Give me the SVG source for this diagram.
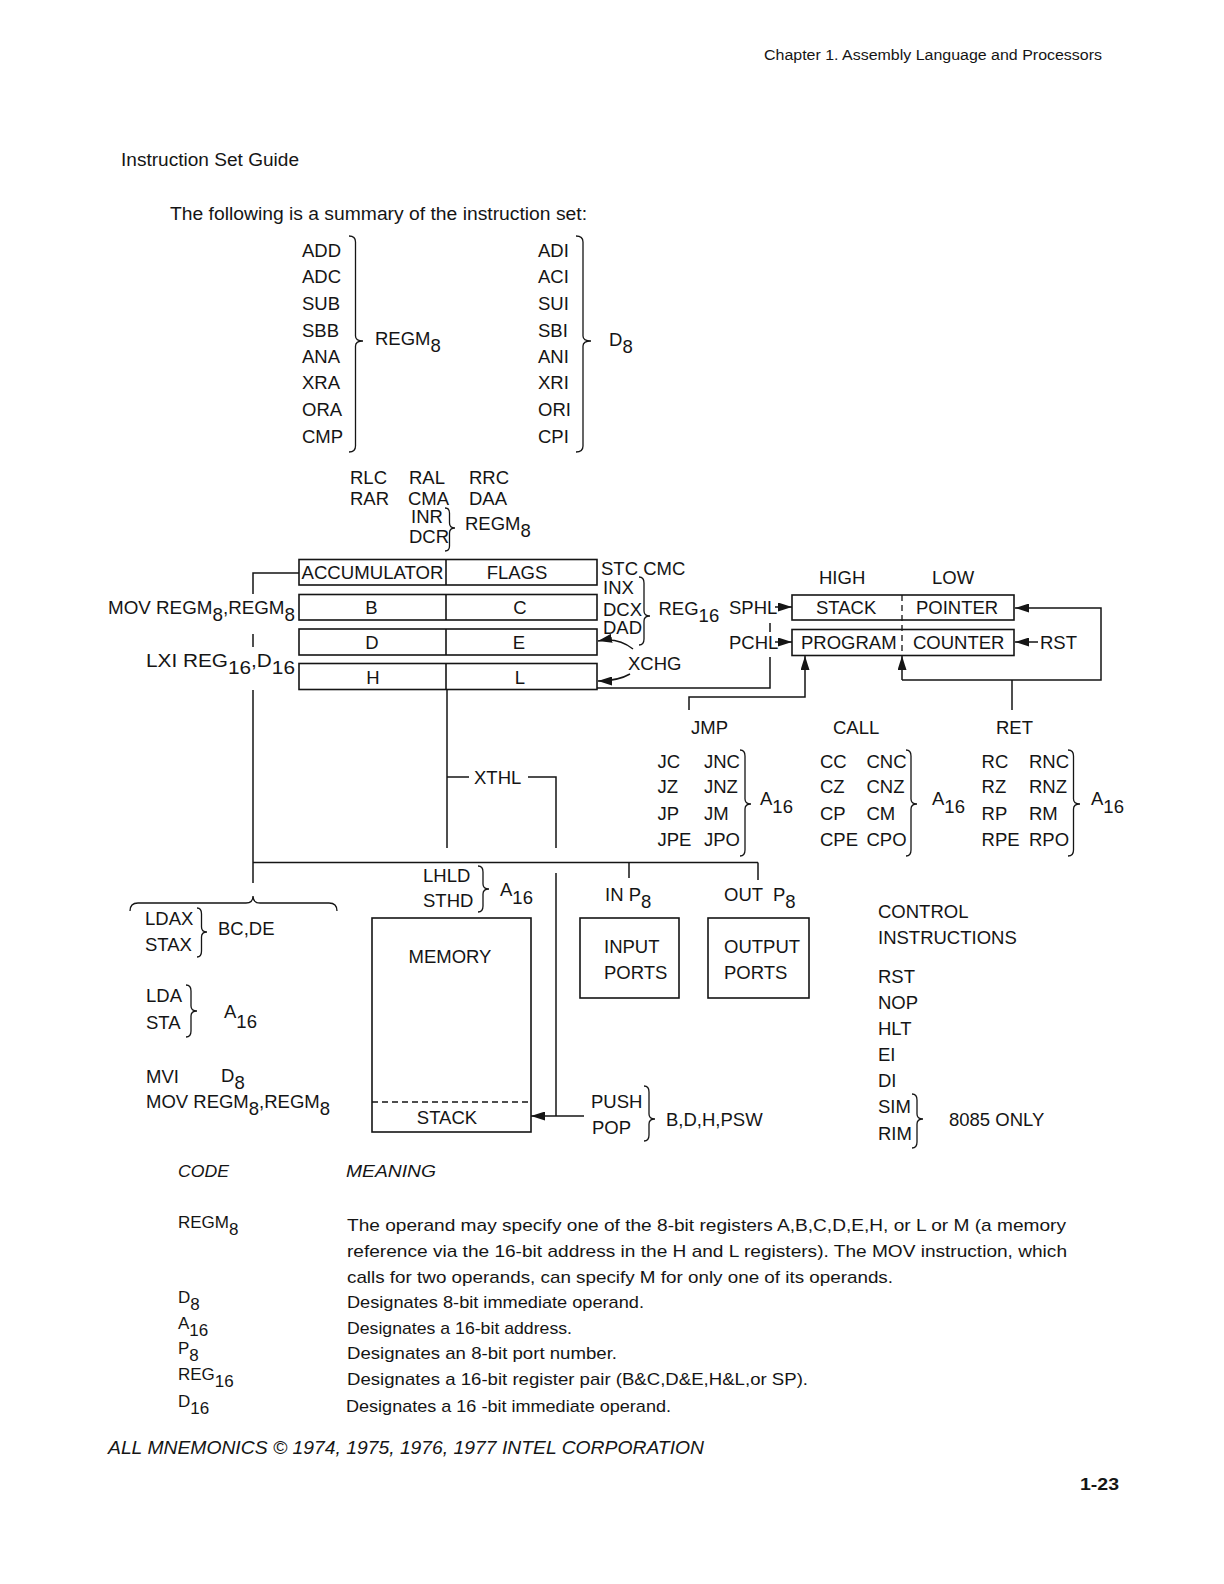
<svg xmlns="http://www.w3.org/2000/svg" width="1224" height="1584" viewBox="0 0 1224 1584">
<defs>
<style>
text { font-family: "Liberation Sans", Arial, sans-serif; font-size: 18.5px; fill: #151515; }
.it { font-style: italic; }
.d { font-size: 17px; }
.ln { fill: none; stroke: #151515; stroke-width: 1.5; }
.bx { fill: none; stroke: #151515; stroke-width: 1.6; }
.br { fill: none; stroke: #151515; stroke-width: 1.3; }
.ds { fill: none; stroke: #151515; stroke-width: 1.3; stroke-dasharray: 6 4; }
</style>
<marker id="ah" viewBox="0 0 14 9" refX="14" refY="4.5" markerWidth="14" markerHeight="9" markerUnits="userSpaceOnUse" orient="auto"><path d="M0,0 L14,4.5 L0,9 z" fill="#151515"/></marker>
</defs>
<rect width="1224" height="1584" fill="#ffffff"/>

<g id="page-text">
<text x="764" y="60" style="font-size:15.5px" textLength="338" lengthAdjust="spacingAndGlyphs">Chapter 1.  Assembly Language and Processors</text>
<text x="121" y="166" style="font-size:17.5px" textLength="178" lengthAdjust="spacingAndGlyphs">Instruction Set Guide</text>
<text x="170" y="219.5" style="font-size:17.5px" textLength="417" lengthAdjust="spacingAndGlyphs">The following is a summary of the instruction set:</text>
</g>

<g id="arith-regm8">
<text x="302" y="257">ADD</text>
<text x="302" y="283.3">ADC</text>
<text x="302" y="309.6">SUB</text>
<text x="302" y="336.8">SBB</text>
<text x="302" y="363.1">ANA</text>
<text x="302" y="389.4">XRA</text>
<text x="302" y="415.6">ORA</text>
<text x="302" y="442.9">CMP</text>
<path class="br" d="M349,236 Q355.5,236 355.5,242 L355.5,336 Q355.5,341 363,341 Q355.5,341 355.5,346 L355.5,446 Q355.5,452 349,452"/>
<text x="375" y="345">REGM<tspan dy="7">8</tspan></text>
</g>

<g id="arith-d8">
<text x="538" y="257">ADI</text>
<text x="538" y="283.3">ACI</text>
<text x="538" y="309.6">SUI</text>
<text x="538" y="336.8">SBI</text>
<text x="538" y="363.1">ANI</text>
<text x="538" y="389.4">XRI</text>
<text x="538" y="415.6">ORI</text>
<text x="538" y="442.9">CPI</text>
<path class="br" d="M576,236 Q583,236 583,242 L583,336 Q583,341 591,341 Q583,341 583,346 L583,446 Q583,452 576,452"/>
<text x="609" y="346">D<tspan dy="7">8</tspan></text>
</g>

<g id="rotate">
<text x="350" y="484">RLC</text>
<text x="409" y="484">RAL</text>
<text x="469" y="484">RRC</text>
<text x="350" y="504.5">RAR</text>
<text x="408" y="504.5">CMA</text>
<text x="469" y="504.5">DAA</text>
<text x="411" y="522.6">INR</text>
<text x="409" y="542.8">DCR</text>
<path class="br" d="M445,508 Q449.5,508 449.5,513 L449.5,523 Q449.5,528 455,528 Q449.5,528 449.5,533 L449.5,546 Q449.5,551 445,551"/>
<text x="465" y="530">REGM<tspan dy="7">8</tspan></text>
</g>

<g id="registers">
<rect class="bx" x="299" y="559.5" width="298" height="25.5"/>
<rect class="bx" x="299" y="594.5" width="298" height="25.5"/>
<rect class="bx" x="299" y="629" width="298" height="26"/>
<rect class="bx" x="299" y="663.5" width="298" height="26"/>
<line class="bx" x1="446" y1="559.5" x2="446" y2="585"/>
<line class="bx" x1="446" y1="594.5" x2="446" y2="620"/>
<line class="bx" x1="446" y1="629" x2="446" y2="655"/>
<line class="bx" x1="446" y1="663.5" x2="446" y2="689.5"/>
<text x="372.5" y="579" text-anchor="middle" textLength="142" lengthAdjust="spacingAndGlyphs">ACCUMULATOR</text>
<text x="517" y="579" text-anchor="middle">FLAGS</text>
<text x="371.5" y="614" text-anchor="middle">B</text>
<text x="520" y="614" text-anchor="middle">C</text>
<text x="372" y="649" text-anchor="middle">D</text>
<text x="519" y="649" text-anchor="middle">E</text>
<text x="373" y="684" text-anchor="middle">H</text>
<text x="520" y="684" text-anchor="middle">L</text>
</g>

<g id="reg-labels">
<text x="108" y="614" textLength="187" lengthAdjust="spacingAndGlyphs">MOV REGM<tspan dy="7">8</tspan><tspan dy="-7">,REGM</tspan><tspan dy="7">8</tspan></text>
<text x="146" y="667" textLength="149" lengthAdjust="spacingAndGlyphs">LXI REG<tspan dy="7">16</tspan><tspan dy="-7">,D</tspan><tspan dy="7">16</tspan></text>
<text x="601" y="575">STC CMC</text>
<text x="603" y="593.5">INX</text>
<text x="603" y="615.5">DCX</text>
<text x="603" y="633.5">DAD</text>
<path class="br" d="M639,577 Q644,577 644,583 L644,611 Q644,616 650,616 Q644,616 644,621 L644,639 Q644,645 639,645"/>
<text x="658.5" y="615">REG<tspan dy="7">16</tspan></text>
<text x="628" y="669.5">XCHG</text>
<text x="729" y="613.5">SPHL</text>
<text x="729" y="648.5">PCHL</text>
</g>

<g id="sp-pc">
<text x="819" y="584">HIGH</text>
<text x="932" y="584">LOW</text>
<rect class="bx" x="792" y="595" width="222" height="25"/>
<rect class="bx" x="792" y="629.5" width="222" height="26"/>
<line class="ds" x1="902" y1="595" x2="902" y2="655.5"/>
<text x="816" y="614">STACK</text>
<text x="916" y="614">POINTER</text>
<text x="801" y="649">PROGRAM</text>
<text x="913" y="649">COUNTER</text>
<text x="1040" y="649">RST</text>
</g>

<g id="jumps">
<text x="691" y="733.5">JMP</text>
<text x="833" y="733.5">CALL</text>
<text x="996" y="733.5">RET</text>
<text x="657.5" y="768">JC</text><text x="704" y="768">JNC</text>
<text x="657.5" y="793.3">JZ</text><text x="704" y="793.3">JNZ</text>
<text x="657.5" y="819.6">JP</text><text x="704" y="819.6">JM</text>
<text x="657.5" y="845.6">JPE</text><text x="704" y="845.6">JPO</text>
<path class="br" d="M740,750 Q745,750 745,756 L745,799 Q745,804 751,804 Q745,804 745,809 L745,850 Q745,856 740,856"/>
<text x="760" y="805">A<tspan dy="8">16</tspan></text>
<text x="820" y="768">CC</text><text x="866.5" y="768">CNC</text>
<text x="820" y="793.3">CZ</text><text x="866.5" y="793.3">CNZ</text>
<text x="820" y="819.6">CP</text><text x="866.5" y="819.6">CM</text>
<text x="820" y="845.6">CPE</text><text x="866.5" y="845.6">CPO</text>
<path class="br" d="M906,750 Q911,750 911,756 L911,799 Q911,804 917,804 Q911,804 911,809 L911,850 Q911,856 906,856"/>
<text x="932" y="805">A<tspan dy="8">16</tspan></text>
<text x="981.6" y="768">RC</text><text x="1029" y="768">RNC</text>
<text x="981.6" y="793.3">RZ</text><text x="1029" y="793.3">RNZ</text>
<text x="981.6" y="819.6">RP</text><text x="1029" y="819.6">RM</text>
<text x="981.6" y="845.6">RPE</text><text x="1029" y="845.6">RPO</text>
<path class="br" d="M1068,750 Q1073.5,750 1073.5,756 L1073.5,799 Q1073.5,804 1080,804 Q1073.5,804 1073.5,809 L1073.5,850 Q1073.5,856 1068,856"/>
<text x="1091" y="805">A<tspan dy="8">16</tspan></text>
</g>

<g id="xthl">
<text x="474" y="784">XTHL</text>
</g>

<g id="memory">
<text x="423" y="882">LHLD</text>
<text x="423" y="906.5">STHD</text>
<path class="br" d="M478,866 Q483,866 483,872 L483,884 Q483,889 489,889 Q483,889 483,894 L483,906 Q483,912 478,912"/>
<text x="500" y="896">A<tspan dy="8">16</tspan></text>
<rect class="bx" x="372" y="918" width="159" height="214"/>
<line class="ds" x1="372" y1="1102" x2="531" y2="1102"/>
<text x="450" y="963" text-anchor="middle">MEMORY</text>
<text x="447" y="1124" text-anchor="middle">STACK</text>
</g>

<g id="input-ports">
<text x="605" y="901">IN P<tspan dy="7">8</tspan></text>
<rect class="bx" x="580" y="918" width="99" height="80"/>
<text x="604" y="952.5">INPUT</text>
<text x="604" y="979">PORTS</text>
</g>

<g id="output-ports">
<text x="724" y="901" xml:space="preserve">OUT  P<tspan dy="7">8</tspan></text>
<rect class="bx" x="708" y="918" width="101" height="80"/>
<text x="724" y="952.5">OUTPUT</text>
<text x="724" y="979">PORTS</text>
</g>

<g id="stack-ops">
<text x="591" y="1107.6">PUSH</text>
<text x="592" y="1133.6">POP</text>
<path class="br" d="M644,1086 Q649,1086 649,1092 L649,1114 Q649,1119 655,1119 Q649,1119 649,1124 L649,1135 Q649,1141 644,1141"/>
<text x="666" y="1125.6">B,D,H,PSW</text>
</g>

<g id="control">
<text x="878" y="918">CONTROL</text>
<text x="878" y="944">INSTRUCTIONS</text>
<text x="878" y="983.2">RST</text>
<text x="878" y="1009.4">NOP</text>
<text x="878" y="1034.6">HLT</text>
<text x="878" y="1061">EI</text>
<text x="878" y="1087">DI</text>
<text x="878" y="1113.4">SIM</text>
<text x="878" y="1139.6">RIM</text>
<path class="br" d="M912,1094 Q917,1094 917,1100 L917,1114 Q917,1119 923,1119 Q917,1119 917,1124 L917,1142 Q917,1148 912,1148"/>
<text x="949" y="1125.6">8085 ONLY</text>
</g>

<g id="load-store">
<path class="br" d="M130,911 Q130,903 138,903 L246,903 Q253,903 253,896 Q253,903 260,903 L329,903 Q337,903 337,911"/>
<text x="145" y="925">LDAX</text>
<text x="145" y="951">STAX</text>
<path class="br" d="M197,908 Q201.5,908 201.5,914 L201.5,927 Q201.5,932 207,932 Q201.5,932 201.5,937 L201.5,951 Q201.5,957 197,957"/>
<text x="218" y="935">BC,DE</text>
<text x="146" y="1002.3">LDA</text>
<text x="146" y="1028.6">STA</text>
<path class="br" d="M186,985 Q191,985 191,991 L191,1006 Q191,1011 197,1011 Q191,1011 191,1016 L191,1031 Q191,1037 186,1037"/>
<text x="224" y="1018">A<tspan dy="10">16</tspan></text>
<text x="146" y="1083">MVI</text>
<text x="221" y="1082">D<tspan dy="7">8</tspan></text>
<text x="146" y="1108.4">MOV REGM<tspan dy="7">8</tspan><tspan dy="-7">,REGM</tspan><tspan dy="7">8</tspan></text>
</g>

<g id="legend">
<text class="it d" x="178" y="1177" textLength="51" lengthAdjust="spacingAndGlyphs">CODE</text>
<text class="it d" x="346" y="1177" textLength="90" lengthAdjust="spacingAndGlyphs">MEANING</text>
<text class="d" x="178" y="1228">REGM<tspan dy="7">8</tspan></text>
<text class="d" x="347" y="1231" textLength="719" lengthAdjust="spacingAndGlyphs">The operand may specify one of the 8-bit registers A,B,C,D,E,H, or L or M (a memory</text>
<text class="d" x="347" y="1257.3" textLength="720" lengthAdjust="spacingAndGlyphs">reference via the 16-bit address in the H and L registers).  The MOV instruction, which</text>
<text class="d" x="347" y="1282.5" textLength="546" lengthAdjust="spacingAndGlyphs">calls for two operands, can specify M for only one of its operands.</text>
<text class="d" x="178" y="1303">D<tspan dy="7">8</tspan></text>
<text class="d" x="347" y="1307.8" textLength="297" lengthAdjust="spacingAndGlyphs">Designates 8-bit immediate operand.</text>
<text class="d" x="178" y="1329">A<tspan dy="7">16</tspan></text>
<text class="d" x="347" y="1334" textLength="225" lengthAdjust="spacingAndGlyphs">Designates a 16-bit address.</text>
<text class="d" x="178" y="1354">P<tspan dy="7">8</tspan></text>
<text class="d" x="347" y="1359.3" textLength="270" lengthAdjust="spacingAndGlyphs">Designates an 8-bit port number.</text>
<text class="d" x="178" y="1380">REG<tspan dy="7">16</tspan></text>
<text class="d" x="347" y="1384.5" textLength="461" lengthAdjust="spacingAndGlyphs">Designates a 16-bit register pair (B&amp;C,D&amp;E,H&amp;L,or SP).</text>
<text class="d" x="178" y="1407">D<tspan dy="7">16</tspan></text>
<text class="d" x="346" y="1411.7" textLength="325" lengthAdjust="spacingAndGlyphs">Designates a 16 -bit immediate operand.</text>
<text class="it" x="108" y="1454" style="font-size:18px" textLength="596" lengthAdjust="spacingAndGlyphs">ALL MNEMONICS © 1974, 1975, 1976, 1977 INTEL CORPORATION</text>
<text x="1080" y="1490" style="font-size:17px;font-weight:bold" textLength="39" lengthAdjust="spacingAndGlyphs">1-23</text>
</g>

<g id="connectors">
<polyline class="ln" points="299,573 253,573 253,594"/>
<line class="ln" x1="253" y1="634" x2="253" y2="647"/>
<line class="ln" x1="253" y1="690" x2="253" y2="883"/>
<line class="ln" x1="253" y1="862.5" x2="758" y2="862.5"/>
<line class="ln" x1="758" y1="862.5" x2="758" y2="880"/>
<line class="ln" x1="629" y1="862.5" x2="629" y2="878"/>
<line class="ln" x1="447" y1="689.5" x2="447" y2="848"/>
<line class="ln" x1="447" y1="777" x2="469" y2="777"/>
<polyline class="ln" points="528,777 556,777 556,848"/>
<line class="ln" x1="556" y1="873" x2="556" y2="1116"/>
<line class="ln" x1="584" y1="1116" x2="531" y2="1116" marker-end="url(#ah)"/>
<polyline class="ln" points="597,688 770,688 770,657"/>
<line class="ln" x1="770" y1="623" x2="770" y2="632"/>
<line class="ln" x1="775" y1="607" x2="792" y2="607" marker-end="url(#ah)"/>
<line class="ln" x1="775" y1="642" x2="792" y2="642" marker-end="url(#ah)"/>
<path class="ln" d="M633,649 Q618,637 598,641" marker-end="url(#ah)"/>
<path class="ln" d="M630,674 Q618,681 598,681" marker-end="url(#ah)"/>
<polyline class="ln" points="689,710 689,697 805,697 805,656" marker-end="url(#ah)"/>
<line class="ln" x1="1012" y1="710" x2="1012" y2="680"/>
<polyline class="ln" points="902,680 1101,680 1101,608 1015,608" marker-end="url(#ah)"/>
<line class="ln" x1="902" y1="680" x2="902" y2="656" marker-end="url(#ah)"/>
<line class="ln" x1="1038" y1="642" x2="1015" y2="642" marker-end="url(#ah)"/>
</g>
</svg>
